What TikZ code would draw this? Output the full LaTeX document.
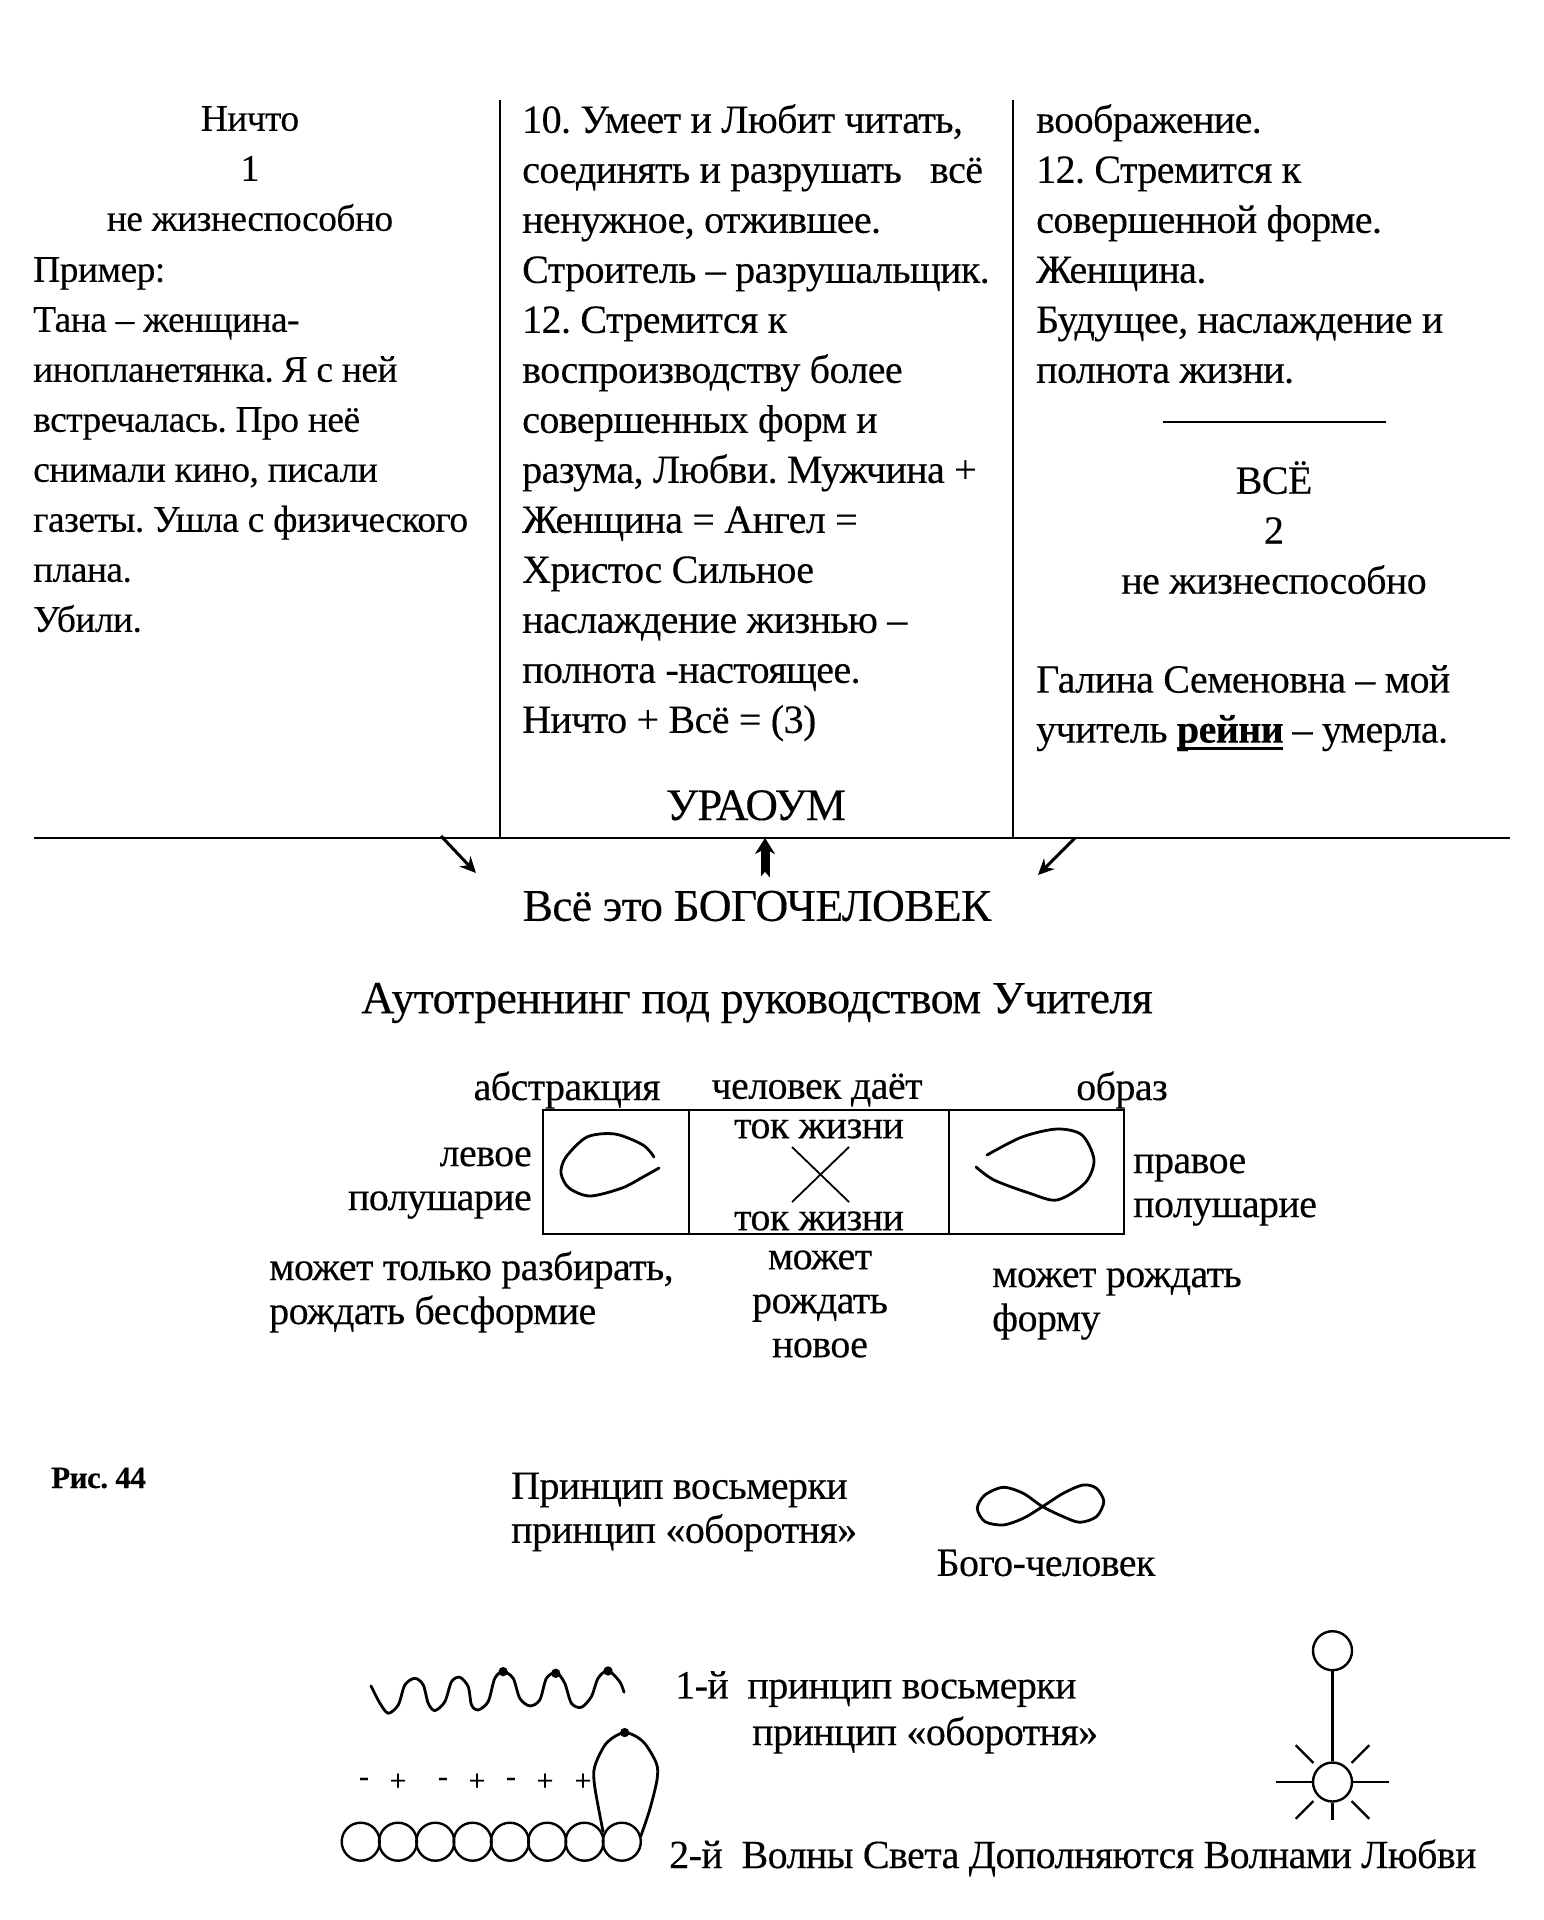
\documentclass[tikz,border=0pt]{standalone}
\usepackage{fontspec}
\setmainfont[LetterSpace=-1.5,FakeBold=0.25]{Liberation Serif}
\usetikzlibrary{arrows.meta, positioning}
\newcommand{\thickul}[1]{\setbox0=\hbox{#1}\rlap{\vrule width\wd0 height -4pt depth 7pt}\box0\relax}
\begin{document}
\begin{tikzpicture}[
    x=1pt, y=-1pt,
    col/.style={inner sep=0pt, align=left, anchor=north west, font=\fontsize{40}{50}\selectfont\frenchspacing},
    coln/.style={col, font=\fontsize{37.5}{50}\selectfont\frenchspacing},
    lab/.style={inner sep=0pt, align=center, font=\fontsize{40}{44}\selectfont\frenchspacing},
    cell/.style={draw, line width=2pt, minimum height=124pt, inner sep=0pt, outer sep=0pt},
    curve/.style={line width=2.8pt, line cap=round, line join=round},
    bead/.style={circle, draw, line width=2.4pt, minimum size=38pt, inner sep=0pt},
    sym/.style={inner sep=0pt, font=\fontsize{30}{30}\selectfont},
    tip/.style={line width=3pt, -{Stealth[length=16pt,width=15pt]}}
]
\useasboundingbox (0,0) rectangle (1543,1920);
% columns
\node[coln, align=center, anchor=north] (nichto) at (250,106) {Ничто \\ 1 \\ не жизнеспособно};
\node[coln] (primer) at (33,257) {Пример: \\ Тана -- женщина- \\ инопланетянка. Я с ней \\ встречалась. Про неё \\ снимали кино, писали \\ газеты. Ушла с физического \\ плана. \\ Убили.};
\node[col] (middle) at (522,104) {10. Умеет и Любит читать, \\ соединять и разрушать \ \ всё \\ ненужное, отжившее. \\ Строитель -- разрушальщик. \\ 12. Стремится к \\ воспроизводству более \\ совершенных форм и \\ разума, Любви. Мужчина + \\ Женщина = Ангел = \\ Христос Сильное \\ наслаждение жизнью -- \\ полнота -настоящее. \\ Ничто + Всё = (3)};
\node[col] (right1) at (1036,104) {воображение. \\ 12. Стремится к \\ совершенной форме. \\ Женщина. \\ Будущее, наслаждение и \\ полнота жизни.};
\coordinate (rulel) at (1163,422);
\coordinate (ruler) at (1386,422);
\draw[line width=1.6pt] (rulel) -- (ruler);
\node[col, align=center, anchor=north] (vse) at (1274,461) {ВСЁ \\ 2 \\ не жизнеспособно};
\node[col] (galina) at (1036,665) {Галина Семеновна -- мой \\ учитель \thickul{\textbf{рейни}} -- умерла.};
\node[col, anchor=north, font=\fontsize{45}{50}\selectfont] (uraoum) at (756,790) {УРАОУМ};
% lines
\coordinate (west) at (34,838);
\coordinate (east) at (1510,838);
\coordinate (topa) at (500,100);
\coordinate (bota) at (500,838);
\coordinate (topb) at (1013,100);
\coordinate (botb) at (1013,838);
\draw[line width=2.4pt] (west) -- (east);
\draw[line width=1.6pt] (topa) -- (bota);
\draw[line width=1.6pt] (topb) -- (botb);
% arrows
\coordinate (ar1) at (441,836);
\coordinate (ar1e) at (476,873);
\coordinate (ar2) at (765,878);
\coordinate (ar2e) at (765,838);
\coordinate (ar3) at (1075,838);
\coordinate (ar3e) at (1038,875);
\draw[tip] (ar1) -- (ar1e);
\draw[tip, line width=9pt, -{Stealth[length=16pt,width=20pt]}] (ar2) -- (ar2e);
\fill[white] (ar2) ++(-6,1) -- ++(6,-7) -- ++(6,7) -- cycle;
\draw[tip] (ar3) -- (ar3e);
\node[inner sep=0pt, font=\fontsize{45.5}{50}\selectfont\frenchspacing] (bogo) at (757,906) {Всё это БОГОЧЕЛОВЕК};
\node[inner sep=0pt, font=\fontsize{46}{50}\selectfont\frenchspacing] (auto) at (757,1003) {Аутотреннинг под руководством Учителя};
% box
\node[cell, minimum width=260pt] (boxm) at (819,1172) {};
\node[cell, minimum width=146pt, left=0pt of boxm] (boxl) {};
\node[cell, minimum width=175pt, right=0pt of boxm] (boxr) {};
\node[lab] (abstr) at (567,1090) {абстракция};
\node[lab] (daet) at (817,1090) {человек даёт};
\node[lab] (obraz) at (1122,1090) {образ};
\node[lab] (tok1) at (819,1129) {ток жизни};
\node[lab] (tok2) at (819,1221) {ток жизни};
\coordinate (xa) at (792,1147);
\coordinate (xb) at (849,1202);
\coordinate (xc) at (849,1147);
\coordinate (xd) at (792,1202);
\draw[line width=1.8pt] (xa) -- (xb);
\draw[line width=1.8pt] (xc) -- (xd);
\draw[curve] plot[smooth] coordinates {(654,1157) (643,1145) (615,1134) (587,1137) (566,1157) (561,1173) (569,1188) (590,1196) (622,1188) (643,1177) (659,1168)};
\draw[curve] plot[smooth] coordinates {(987,1155) (1022,1137) (1057,1129) (1082,1135) (1094,1160) (1085,1183) (1057,1200) (1029,1193) (994,1180) (976,1167)};
\node[lab, align=right, anchor=east] (levoe) at (532,1183) {левое \\ полушарие};
\node[lab, align=left, anchor=west] (pravoe) at (1133,1190) {правое \\ полушарие};
\node[lab, align=left, anchor=west] (razb) at (269,1292) {может только разбирать, \\ рождать бесформие};
\node[lab] (novoe) at (820,1304) {может \\ рождать \\ новое};
\node[lab, align=left, anchor=west] (formu) at (992,1304) {может рождать \\ форму};
% bottom
\node[inner sep=0pt, anchor=west, font=\fontsize{31}{40}\selectfont\bfseries\frenchspacing] (ris) at (51,1478) {Рис. 44};
\node[lab, align=left, anchor=west] (vosm) at (511,1512) {Принцип восьмерки \\ принцип «оборотня»};
\node[lab] (bch) at (1046,1563) {Бого-человек};
\begin{scope}[shift={(920,1460)}, x=0.333pt, y=-0.333pt]
\draw[curve] plot[smooth cycle] coordinates {(368,140) (310,100) (250,82) (195,105) (172,145) (195,185) (250,195) (310,175) (368,140) (430,100) (490,75) (530,85) (552,125) (530,170) (480,187) (430,170)};
\end{scope}
\node[lab, align=left, anchor=west] (pr1) at (675,1689) {1-й \ принцип восьмерки};
\node[lab, align=left, anchor=west] (pr1b) at (752,1735) {принцип «оборотня»};
\node[lab, align=left, anchor=west] (pr2) at (669,1858) {2-й \ Волны Света Дополняются Волнами Любви};
\begin{scope}[shift={(320,1620)}, x=0.333pt, y=-0.333pt]
\draw[curve] plot[smooth] coordinates {(153,198) (180,250) (205,280) (235,255) (255,195) (285,175) (310,195) (325,250) (345,272) (375,245) (395,185) (420,172) (445,200) (455,255) (475,270) (505,245) (525,175) (550,155) (580,175) (600,235) (630,258) (660,240) (680,175) (710,158) (735,190) (755,250) (785,262) (815,230) (835,175) (865,152) (900,185) (913,217)};
\foreach \px/\py in {550/155, 708/160, 865/153, 915/338}
    \fill (\px,\py) circle[radius=14];
\draw[curve] plot[smooth] coordinates {(850,635) (825,500) (825,440) (860,370) (915,338) (970,365) (1010,430) (1012,480) (990,570) (963,650)};
\end{scope}
\foreach \i [evaluate=\i as \cx using 360.7+37.3*\i] in {0,...,7}
    \node[bead] (bead\i) at (\cx,1841.7) {};
\node[sym] (s1) at (364,1782) {-};
\node[sym] (s2) at (398,1782) {+};
\node[sym] (s3) at (443,1782) {-};
\node[sym] (s4) at (477,1782) {+};
\node[sym] (s5) at (511,1782) {-};
\node[sym] (s6) at (545,1782) {+};
\node[sym] (s7) at (583,1782) {+};
% sun
\node[bead, minimum size=39pt] (ball) at (1332.5,1650.7) {};
\node[bead, minimum size=39pt] (sun) at (1332.5,1782) {};
\draw[line width=2.4pt] (ball) -- (sun);
\draw[line width=2.4pt] (sun.west) -- ++(-36,0);
\draw[line width=2.4pt] (sun.east) -- ++(36,0);
\draw[line width=2.4pt] (sun.south) -- ++(0,17);
\foreach \a in {45,135,225,315}
    \draw[line width=2.4pt] (sun.center) ++(\a:27) -- ++(\a:25);
\end{tikzpicture}
\end{document}
